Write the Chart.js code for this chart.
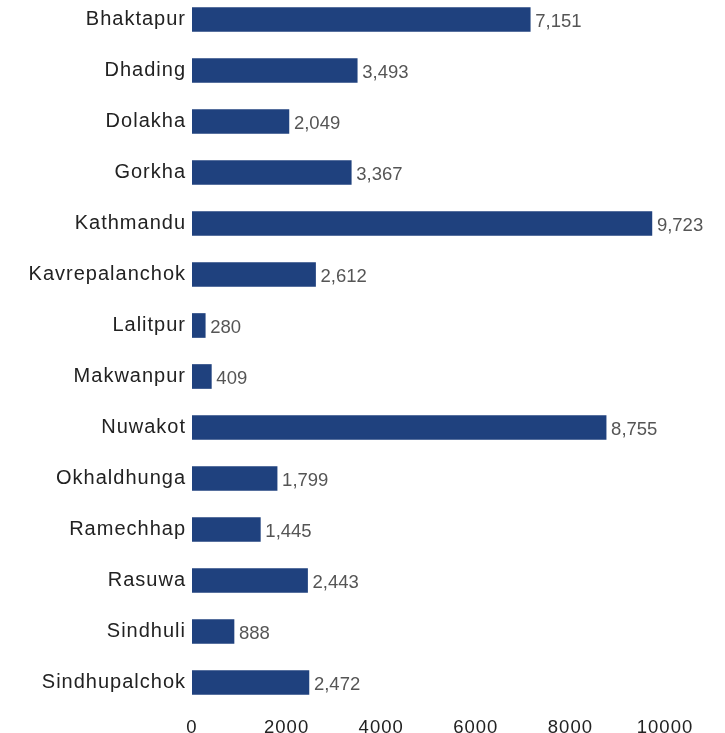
<!DOCTYPE html>
<html>
<head>
<meta charset="utf-8">
<title>Households by district</title>
<script src="https://cdn.jsdelivr.net/npm/chart.js@4/dist/chart.umd.min.js"></script>
<style>
  html, body { margin: 0; padding: 0; background: #ffffff; overflow: hidden; width: 725px; height: 733px; }
  #wrap { position: absolute; left: 0; top: -6px; width: 725px; height: 754px; }
</style>
</head>
<body>
<div id="wrap"><canvas id="chart" width="725" height="754"></canvas></div>
<script>
// District names, top to bottom
const districts = [
  'Bhaktapur', 'Dhading', 'Dolakha', 'Gorkha', 'Kathmandu', 'Kavrepalanchok',
  'Lalitpur', 'Makwanpur', 'Nuwakot', 'Okhaldhunga', 'Ramechhap', 'Rasuwa',
  'Sindhuli', 'Sindhupalchok'
];

// One value per district
const counts = [7151, 3493, 2049, 3367, 9723, 2612, 280, 409, 8755, 1799, 1445, 2443, 888, 2472];

// Horizontal axis ticks
const xTicks = [0, 2000, 4000, 6000, 8000, 10000];

const BAR_COLOR = '#1f417e';
const FONT = "'Liberation Sans', Arial, Helvetica, sans-serif";

// Slightly tracked axis text
const axisTracking = {
  id: 'axisTracking',
  beforeDraw(chart) { chart.ctx.letterSpacing = '1px'; },
  beforeDatasetsDraw(chart) { chart.ctx.letterSpacing = '0px'; }
};

// Value written just past the end of each bar
const valueLabels = {
  id: 'valueLabels',
  afterDatasetsDraw(chart) {
    const ctx = chart.ctx;
    const meta = chart.getDatasetMeta(0);
    const data = chart.data.datasets[0].data;
    ctx.save();
    ctx.letterSpacing = '0px';
    ctx.font = '18.5px ' + FONT;
    ctx.fillStyle = '#555555';
    ctx.textAlign = 'left';
    ctx.textBaseline = 'middle';
    meta.data.forEach((bar, i) => {
      ctx.fillText(data[i].toLocaleString('en-US'), bar.x + 5, bar.y + 2);
    });
    ctx.restore();
  }
};

new Chart(document.getElementById('chart'), {
  type: 'bar',
  data: {
    labels: districts,
    datasets: [{
      data: counts,
      backgroundColor: BAR_COLOR,
      borderWidth: 0,
      barThickness: 24
    }]
  },
  options: {
    indexAxis: 'y',
    responsive: false,
    animation: false,
    devicePixelRatio: 1,
    layout: { padding: { left: 0, right: 60, top: 0, bottom: 0 } },
    plugins: {
      legend: { display: false },
      tooltip: { enabled: false }
    },
    scales: {
      x: {
        min: 0,
        max: 10000,
        afterBuildTicks(scale) { scale.ticks = xTicks.map(v => ({ value: v })); },
        afterFit(scale) {
          scale.height = 40;
          scale.paddingLeft = 0;
          scale.paddingRight = 0;
        },
        grid: { display: false, drawTicks: false },
        border: { display: false },
        ticks: {
          padding: 9,
          color: '#222222',
          font: { family: FONT, size: 18.5 },
          maxRotation: 0,
          callback: v => String(v)
        }
      },
      y: {
        afterFit(scale) {
          scale.width = 192;
          scale.paddingTop = 0;
          scale.paddingBottom = 0;
        },
        grid: { display: false, drawTicks: false },
        border: { display: false },
        ticks: {
          padding: 6,
          color: '#222222',
          font: { family: FONT, size: 20 },
          autoSkip: false
        }
      }
    }
  },
  plugins: [axisTracking, valueLabels]
});
</script>
</body>
</html>
